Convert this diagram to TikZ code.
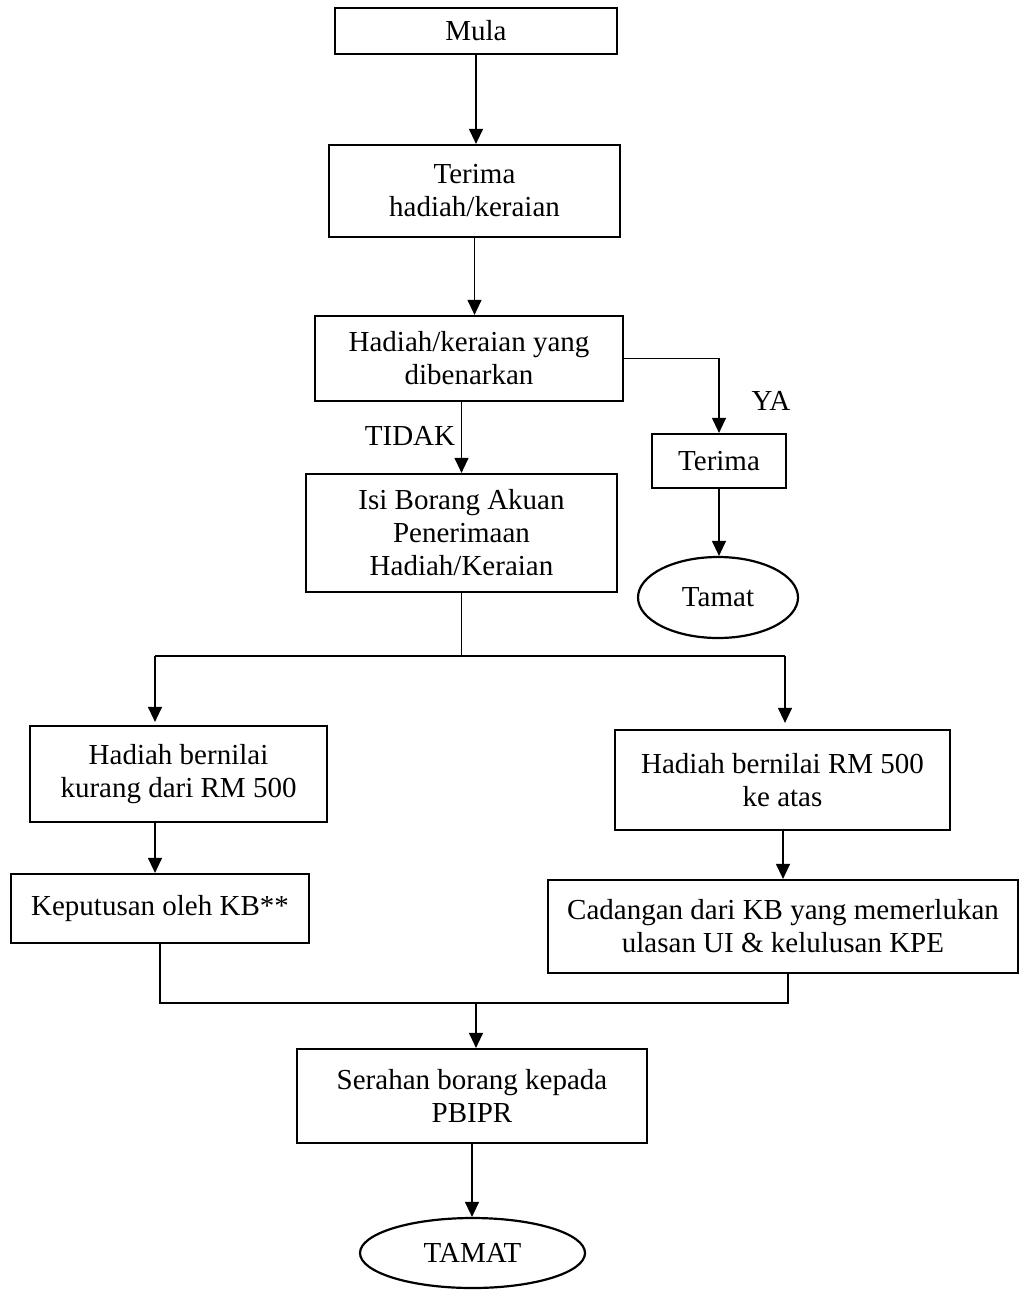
\documentclass[tikz,border=0pt]{standalone}
\usepackage{fontspec}
\setmainfont{Liberation Serif}
\usetikzlibrary{arrows.meta,shapes.geometric}
\begin{document}
\begin{tikzpicture}[x=0.5pt,y=-0.5pt,
  font=\fontsize{14.5}{16.5}\selectfont,
  box/.style={draw,line width=1.1pt,rectangle,align=center,inner sep=0pt},
  oval/.style={draw,line width=1.1pt,ellipse,align=center,inner sep=0pt},
  conn/.style={line width=0.6pt},
  arr/.style={conn,-{Triangle[length=7.5pt,width=7pt]}},
  lbl/.style={inner sep=0pt}]
\useasboundingbox (0,0) rectangle (1030,1290);
\node[box,minimum width=141pt,minimum height=23pt] (mula) at (476,31) {Mula};
\node[box,minimum width=145.5pt,minimum height=46pt] (terima1) at (474.5,191) {Terima\\hadiah/keraian};
\node[box,minimum width=154pt,minimum height=42.5pt] (benar) at (469,358.5) {Hadiah/keraian yang\\dibenarkan};
\node[box,minimum width=155.5pt,minimum height=59pt] (isi) at (461.5,533) {Isi Borang Akuan\\Penerimaan\\Hadiah/Keraian};
\node[box,minimum width=67pt,minimum height=27pt] (terima2) at (719,461) {Terima};
\node[oval,minimum width=80pt,minimum height=40.5pt] (tamat1) at (718,597.5) {Tamat};
\node[box,minimum width=148.5pt,minimum height=48pt] (kurang) at (178.5,774) {Hadiah bernilai\\kurang dari RM 500};
\node[box,minimum width=167.5pt,minimum height=50pt] (atas) at (782.5,780) {Hadiah bernilai RM 500\\ke atas};
\node[box,minimum width=149pt,minimum height=34.5pt] (kep) at (160,908.5) {Keputusan oleh KB**};
\node[box,minimum width=235pt,minimum height=46.5pt] (cad) at (783,926.5) {Cadangan dari KB yang memerlukan\\ulasan UI \& kelulusan KPE};
\node[box,minimum width=175pt,minimum height=47pt] (serah) at (472,1096) {Serahan borang kepada\\PBIPR};
\node[oval,minimum width=112.5pt,minimum height=35pt] (tamat2) at (472.5,1253) {TAMAT};
\node[lbl] (ya) at (771,401) {YA};
\node[lbl] (tidak) at (410,436) {TIDAK};
\coordinate (sl) at (155,656);
\coordinate (sr) at (785,656);
\coordinate (ml) at (160,1003);
\coordinate (mr) at (788,1003);
\coordinate (mm) at (476,1003);
\draw[arr] (mula.south) -- (mula.south |- terima1.north);
\draw[arr] (terima1.south) -- (terima1.south |- benar.north);
\draw[arr] (benar.east) -| (terima2.north);
\draw[arr] (isi.north |- benar.south) -- (isi.north);
\draw[arr] (terima2.south) -- (terima2.south |- tamat1.north);
\draw[conn] (isi.south) -- (isi.south |- sl);
\draw[conn] (sl) -- (sr);
\draw[arr] (sl) -- ([yshift=1.5pt]sl |- kurang.north);
\draw[arr] (sr) -- ([yshift=3pt]sr |- atas.north);
\draw[arr] (sl |- kurang.south) -- (sl |- kep.north);
\draw[arr] (cad.north |- atas.south) -- (cad.north);
\draw[conn] (ml |- kep.south) -- (ml) -- (mr) -- (mr |- cad.south);
\draw[arr] (mm) -- (mm |- serah.north);
\draw[arr] (serah.south) -- (serah.south |- tamat2.north);
\end{tikzpicture}
\end{document}
